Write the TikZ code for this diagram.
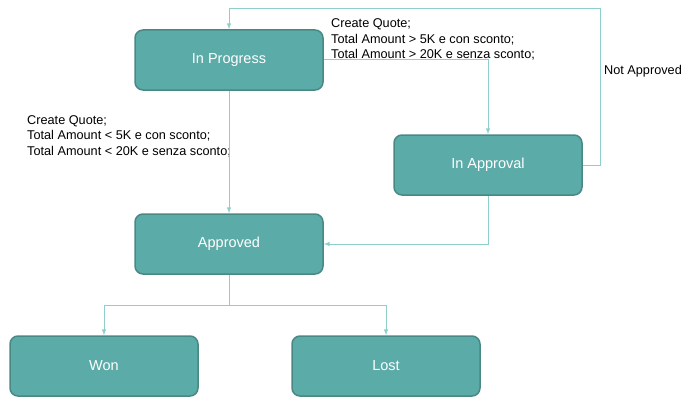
\documentclass[tikz,border=0pt]{standalone}
\usepackage{fontspec}
\setmainfont{Liberation Sans}
\usetikzlibrary{positioning}
\definecolor{boxfill}{HTML}{5BABA8}
\definecolor{boxline}{HTML}{4A8886}
\definecolor{linkcol}{HTML}{8ECFCB}
\begin{document}
\begin{tikzpicture}[x=1pt, y=-1pt, >=latex, font=\fontsize{12.7}{15.7}\selectfont]
        \tikzstyle{state} = [rectangle, draw=boxline, line width=1.5pt, fill=boxfill, text=white,
                            text centered, rounded corners=8pt, minimum width=188pt, minimum height=60pt,
                            font=\fontsize{14.5}{17}\selectfont]
        \tikzstyle{link} = [draw=linkcol, line width=1pt]
        \tikzstyle{cond} = [align=left, anchor=north west, inner sep=0pt]

        \useasboundingbox (0,0) rectangle (682,396);

        % Stati
        \node[state] (progress) at (229,60) {In Progress};
        \node[state] (approval) at (488,165) {In Approval};
        \node[state] (approved) at (229,244) {Approved};
        \node[state] (won) at (104,366) {Won};
        \node[state] (lost) at (386,366) {Lost};

        \coordinate (loop) at (600,9);
        \coordinate (split) at (229,305);

        % Condizioni
        \node[cond] (cond_up) at (331,18.5) {Create Quote;\\Total Amount > 5K e con sconto;\\Total Amount > 20K e senza sconto;};
        \node[cond] (cond_down) at (27,115) {Create Quote;\\Total Amount < 5K e con sconto;\\Total Amount < 20K e senza sconto;};
        \node (not_approved) at (643,71) {Not Approved};

        % Frecce
        \draw[link, ->] (progress.east) -| (approval.north);
        \draw[link, ->] (progress.south) -- (approved.north);
        \draw[link, ->] (approval.east) -| (loop) -| (progress.north);
        \draw[link, ->] (approval.south) |- (approved.east);
        \draw[link] (approved.south) -- (split);
        \draw[link, ->] (split) -| (won.north);
        \draw[link, ->] (split) -| (lost.north);
    \end{tikzpicture}
\end{document}
